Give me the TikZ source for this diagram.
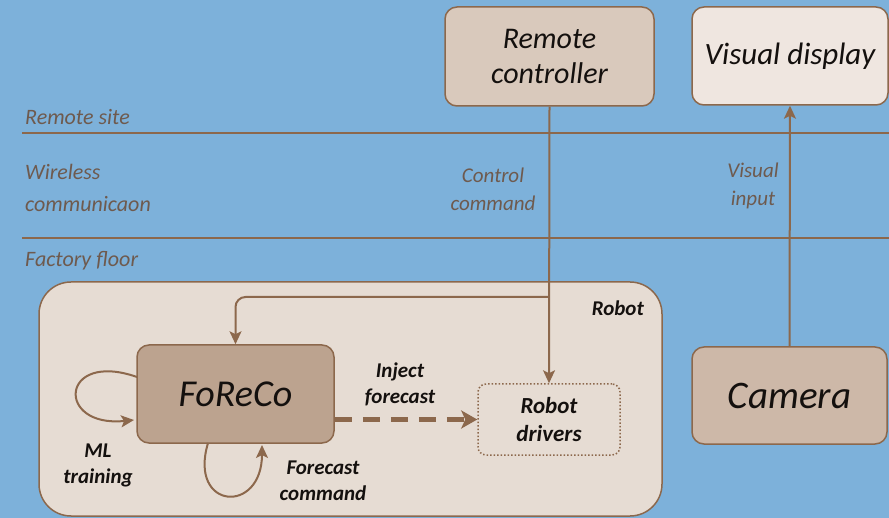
\documentclass[tikz,border=0pt]{standalone}
\usepackage{fontspec}
\setmainfont{Carlito}
\usetikzlibrary{arrows.meta,calc}
\definecolor{bgblue}{RGB}{125,177,218}
\definecolor{lnbrown}{RGB}{140,104,76}
\definecolor{lbl}{RGB}{110,90,78}
\definecolor{rcfill}{RGB}{217,201,188}
\definecolor{vdfill}{RGB}{239,230,224}
\definecolor{robfill}{RGB}{230,220,211}
\definecolor{fcfill}{RGB}{188,163,143}
\definecolor{camfill}{RGB}{205,184,168}
\definecolor{txt}{RGB}{20,16,14}
\tikzset{
  box/.style={draw=lnbrown, line width=1.5pt, rounded corners=12pt, align=center, text=txt, inner sep=0pt},
  zone/.style={text=lbl, font=\fontsize{22}{32}\selectfont\itshape, align=left, inner sep=0pt},
  side/.style={text=lbl, font=\fontsize{21}{28}\selectfont\itshape, align=center, inner sep=0pt},
  bl/.style={text=txt, font=\fontsize{21}{26}\selectfont\bfseries\itshape, align=center, inner sep=0pt},
  conn/.style={draw=lnbrown, line width=2pt},
  tip/.style={-{Stealth[length=13pt,width=12pt,inset=3pt]}}
}
\begin{document}
\begin{tikzpicture}[x=1pt,y=-1pt]
\useasboundingbox (0,0) rectangle (889,518);
\fill[bgblue] (0,0) rectangle (889,518);
% separators
\coordinate (s1a) at (22,133); \coordinate (s1b) at (889,133);
\coordinate (s2a) at (22,238); \coordinate (s2b) at (889,238);
\draw[conn] (s1a) -- (s1b);
\draw[conn] (s2a) -- (s2b);
% zone labels
\node[zone, anchor=base west] (z1) at (25,125) {Remote site};
\node[zone, anchor=base west] (z2) at (25,212) {Wireless\\communicaon};
\node[zone, anchor=base west] (z3) at (25,267) {Factory floor};
% top boxes
\node[box, fill=rcfill, minimum width=209pt, minimum height=99pt, font=\fontsize{30}{35}\selectfont\itshape] (rc) at (549.5,56.5) {Remote\\controller};
\node[box, fill=vdfill, minimum width=196pt, minimum height=98pt, font=\fontsize{31}{36}\selectfont\itshape] (vd) at (790,56) {Visual display};
% robot container
\node[box, fill=robfill, rounded corners=32pt, minimum width=623pt, minimum height=234pt] (rob) at (350.5,399) {};
\node[bl, anchor=base east] (robl) at (644,316) {Robot};
\node[box, fill=fcfill, minimum width=197pt, minimum height=98pt, font=\fontsize{38}{44}\selectfont\itshape] (fc) at (235.5,394) {FoReCo};
\node[draw=lnbrown, line width=1.5pt, dotted, rounded corners=8pt, minimum width=142pt, minimum height=71pt, inner sep=0pt, text=txt, font=\fontsize{23}{28}\selectfont\bfseries\itshape, align=center] (rd) at (549,419.5) {Robot\\drivers};
\node[box, fill=camfill, minimum width=195pt, minimum height=97pt, font=\fontsize{39}{44}\selectfont\itshape] (cam) at (789.5,395.5) {Camera};
% connectors
\draw[conn, tip] (rc.south) -- (rd.north);
\coordinate (split) at (549,297);
\draw[conn, tip, rounded corners=10pt] (split) -| (fc.north);
\draw[conn, tip] (cam.north) -- (vd.south);
\draw[draw=lnbrown, line width=5pt, dash pattern=on 17pt off 11pt, -{Stealth[length=16pt,width=18pt,inset=4pt]}] (fc.east |- rd.west) -- (rd.west);
\coordinate (mla) at (137,377); \coordinate (mlb) at (134,420);
\draw[conn, tip] (mla) .. controls (60,350) and (55,428) .. (mlb);
\coordinate (fca) at (208,443); \coordinate (fcb) at (262,445);
\draw[conn, tip] (fca) .. controls (188,510) and (262,515) .. (fcb);
% connector labels
\node[side] (cc) at (493,189) {Control\\command};
\node[side] (vi) at (753,186) {Visual\\input};
\node[bl] (ij) at (400,384) {Inject\\forecast};
\node[bl] (ml) at (98,465) {ML\\training};
\node[bl] (fcl) at (323,481) {Forecast\\command};
\end{tikzpicture}
\end{document}
